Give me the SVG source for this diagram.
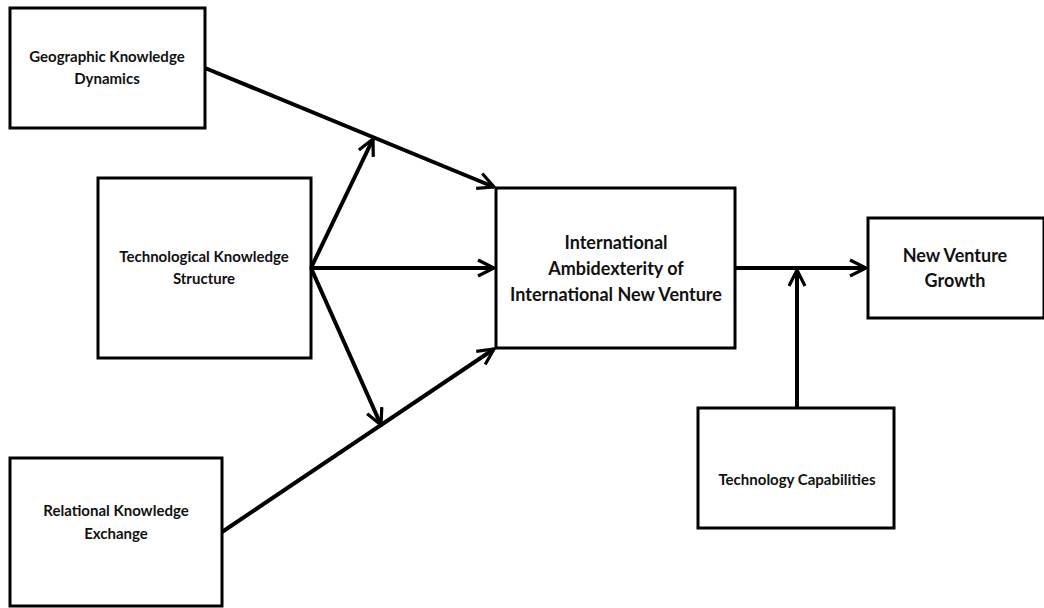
<svg xmlns="http://www.w3.org/2000/svg" width="1044" height="608" viewBox="0 0 1044 608">
<style>
.box{fill:#fff;stroke:#000;stroke-width:3}
.t{font-family:Lato,"Liberation Sans",sans-serif;font-weight:bold;fill:#111;text-anchor:middle}
.s{font-size:15px}
.l{font-size:18px}
.c{stroke:#000;stroke-width:4;fill:none}
</style>
<defs>
<marker id="ah" viewBox="0 0 10 10" refX="9" refY="5" markerWidth="5" markerHeight="5" orient="auto" markerUnits="strokeWidth">
<path d="M1,1 L9,5 L1,9" fill="none" stroke="#000" stroke-width="1.6"/>
</marker>
</defs>
<g id="n1"><rect class="box" x="10" y="8" width="195" height="120"/>
<text class="t s" x="107" y="62">Geographic Knowledge</text><text class="t s" x="107" y="84">Dynamics</text></g>
<g id="n2"><rect class="box" x="98" y="178" width="213" height="180"/>
<text class="t s" x="204" y="262">Technological Knowledge</text><text class="t s" x="204" y="284">Structure</text></g>
<g id="n3"><rect class="box" x="496" y="188" width="239" height="160"/>
<text class="t l" x="616" y="249">International</text><text class="t l" x="616" y="275">Ambidexterity of</text><text class="t l" x="616" y="301">International New Venture</text></g>
<g id="n4"><rect class="box" x="868" y="218" width="176" height="100"/>
<text class="t l" x="955" y="262">New Venture</text><text class="t l" x="955" y="287">Growth</text></g>
<g id="n5"><rect class="box" x="698" y="408" width="196" height="120"/>
<text class="t s" x="797" y="485">Technology Capabilities</text></g>
<g id="n6"><rect class="box" x="10" y="458" width="212" height="148"/>
<text class="t s" x="116" y="516">Relational Knowledge</text><text class="t s" x="116" y="539">Exchange</text></g>
<g id="connectors">
<line class="c" x1="205" y1="68" x2="494" y2="187" marker-end="url(#ah)"/>
<line class="c" x1="311" y1="268" x2="494" y2="268" marker-end="url(#ah)"/>
<line class="c" x1="311" y1="268" x2="373" y2="139" marker-end="url(#ah)"/>
<line class="c" x1="311" y1="268" x2="381" y2="425" marker-end="url(#ah)"/>
<line class="c" x1="222" y1="532" x2="494" y2="349" marker-end="url(#ah)"/>
<line class="c" x1="735" y1="268" x2="866" y2="268" marker-end="url(#ah)"/>
<line class="c" x1="797" y1="407" x2="797" y2="270" marker-end="url(#ah)"/>
</g>
</svg>
